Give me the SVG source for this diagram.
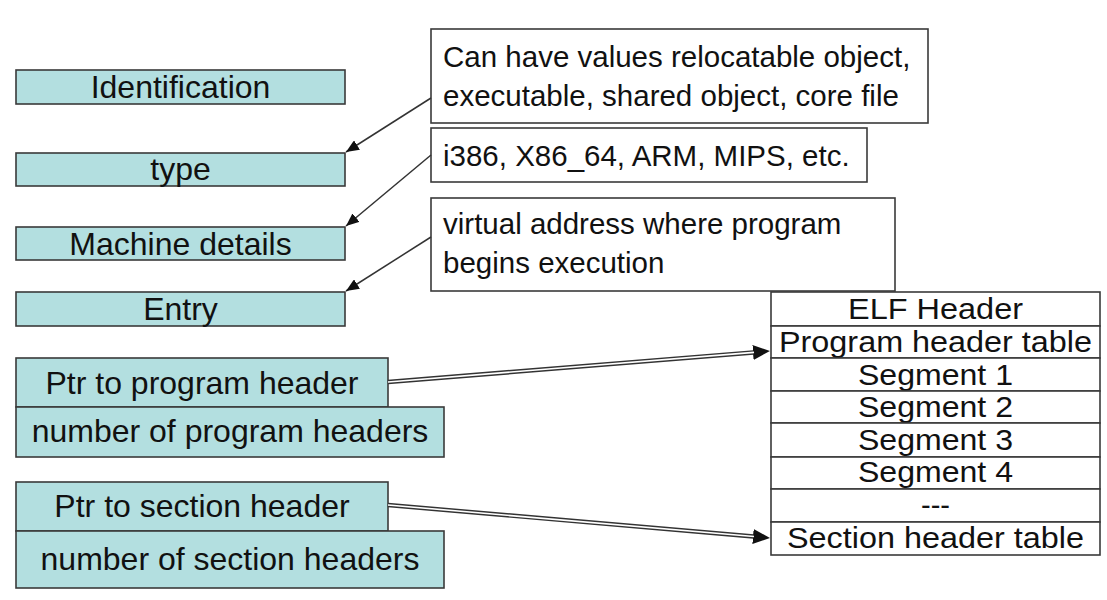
<svg xmlns="http://www.w3.org/2000/svg" width="1107" height="600" viewBox="0 0 1107 600">
<style>
  .field { fill: #b3dfe0; stroke: #3a3a3a; stroke-width: 1.6; }
  .note { fill: #ffffff; stroke: #3a3a3a; stroke-width: 1.6; }
  .cell { fill: #ffffff; stroke: #3a3a3a; stroke-width: 1.6; }
  text { font-family: "Liberation Sans", Arial, sans-serif; fill: #111; }
  .fl { font-size: 32px; text-anchor: middle; }
  .nt { font-size: 29.5px; }
  .tb { font-size: 29px; text-anchor: middle; }
  .thin { fill: none; stroke: #333; stroke-width: 1.5; }
  .dbl-out { fill: none; stroke: #333; stroke-width: 4.5; }
  .dbl-in { fill: none; stroke: #fff; stroke-width: 1.6; }
</style>
<defs>
  <marker id="ahSmall" markerUnits="userSpaceOnUse" viewBox="0 0 13 11" refX="13" refY="5.5" markerWidth="13" markerHeight="11" orient="auto">
    <path d="M0,0 L13,5.5 L0,11 z" fill="#111"/>
  </marker>
  <marker id="ahBig" markerUnits="userSpaceOnUse" viewBox="0 0 17 15" refX="0.5" refY="7.5" markerWidth="17" markerHeight="15" orient="auto">
    <path d="M0,0 L17,7.5 L0,15 z" fill="#111"/>
  </marker>
</defs>
<rect width="1107" height="600" fill="#ffffff"/>

<g id="identification"><rect class="field" x="16" y="70" width="329" height="34"/><text class="fl" x="180.5" y="98">Identification</text></g>
<g id="type"><rect class="field" x="16" y="153" width="329" height="33"/><text class="fl" x="180.5" y="180">type</text></g>
<g id="machine"><rect class="field" x="16" y="227" width="329" height="33"/><text class="fl" x="180.5" y="255">Machine details</text></g>
<g id="entry"><rect class="field" x="16" y="292" width="329" height="34"/><text class="fl" x="180.5" y="320">Entry</text></g>
<g id="ptr-prog"><rect class="field" x="16" y="358" width="372" height="49"/><text class="fl" x="202" y="394">Ptr to program header</text></g>
<g id="num-prog"><rect class="field" x="16" y="407" width="428" height="50"/><text class="fl" x="230" y="442">number of program headers</text></g>
<g id="ptr-sect"><rect class="field" x="16" y="482" width="372" height="49"/><text class="fl" x="202" y="517">Ptr to section header</text></g>
<g id="num-sect"><rect class="field" x="16" y="531" width="428" height="57"/><text class="fl" x="230" y="570">number of section headers</text></g>

<g id="note-type"><rect class="note" x="431" y="29" width="497" height="94"/><text class="nt" x="443" y="67">Can have values relocatable object,</text><text class="nt" x="443" y="106">executable, shared object, core file</text></g>
<g id="note-machine"><rect class="note" x="431" y="128" width="436" height="54"/><text class="nt" x="443" y="166">i386, X86_64, ARM, MIPS, etc.</text></g>
<g id="note-entry"><rect class="note" x="431" y="198" width="464" height="93"/><text class="nt" x="443" y="234">virtual address where program</text><text class="nt" x="443" y="273">begins execution</text></g>

<g id="elf-table">
  <rect class="cell" x="771" y="292" width="329" height="34"/><text class="tb" x="935.5" y="319" textLength="175" lengthAdjust="spacingAndGlyphs">ELF Header</text>
  <rect class="cell" x="771" y="326" width="329" height="32"/><text class="tb" x="935.5" y="352" textLength="313" lengthAdjust="spacingAndGlyphs">Program header table</text>
  <rect class="cell" x="771" y="358" width="329" height="33"/><text class="tb" x="935.5" y="385" textLength="155" lengthAdjust="spacingAndGlyphs">Segment 1</text>
  <rect class="cell" x="771" y="391" width="329" height="32"/><text class="tb" x="935.5" y="417" textLength="155" lengthAdjust="spacingAndGlyphs">Segment 2</text>
  <rect class="cell" x="771" y="423" width="329" height="34"/><text class="tb" x="935.5" y="450" textLength="155" lengthAdjust="spacingAndGlyphs">Segment 3</text>
  <rect class="cell" x="771" y="457" width="329" height="32"/><text class="tb" x="935.5" y="482" textLength="155" lengthAdjust="spacingAndGlyphs">Segment 4</text>
  <rect class="cell" x="771" y="489" width="329" height="33"/><text class="tb" x="935.5" y="515">---</text>
  <rect class="cell" x="771" y="522" width="329" height="33"/><text class="tb" x="935.5" y="548" textLength="297" lengthAdjust="spacingAndGlyphs">Section header table</text>
</g>

<g id="connectors">
  <line class="thin" x1="431" y1="98" x2="346" y2="152" marker-end="url(#ahSmall)"/>
  <line class="thin" x1="431" y1="155" x2="346" y2="226" marker-end="url(#ahSmall)"/>
  <line class="thin" x1="431" y1="237" x2="346" y2="291" marker-end="url(#ahSmall)"/>
  <line class="dbl-out" x1="388" y1="382" x2="753.5" y2="352.4" marker-end="url(#ahBig)"/>
  <line class="dbl-in" x1="388" y1="382" x2="754" y2="352.4"/>
  <line class="dbl-out" x1="388" y1="505" x2="753.5" y2="536.5" marker-end="url(#ahBig)"/>
  <line class="dbl-in" x1="388" y1="505" x2="754" y2="536.5"/>
</g>
</svg>
